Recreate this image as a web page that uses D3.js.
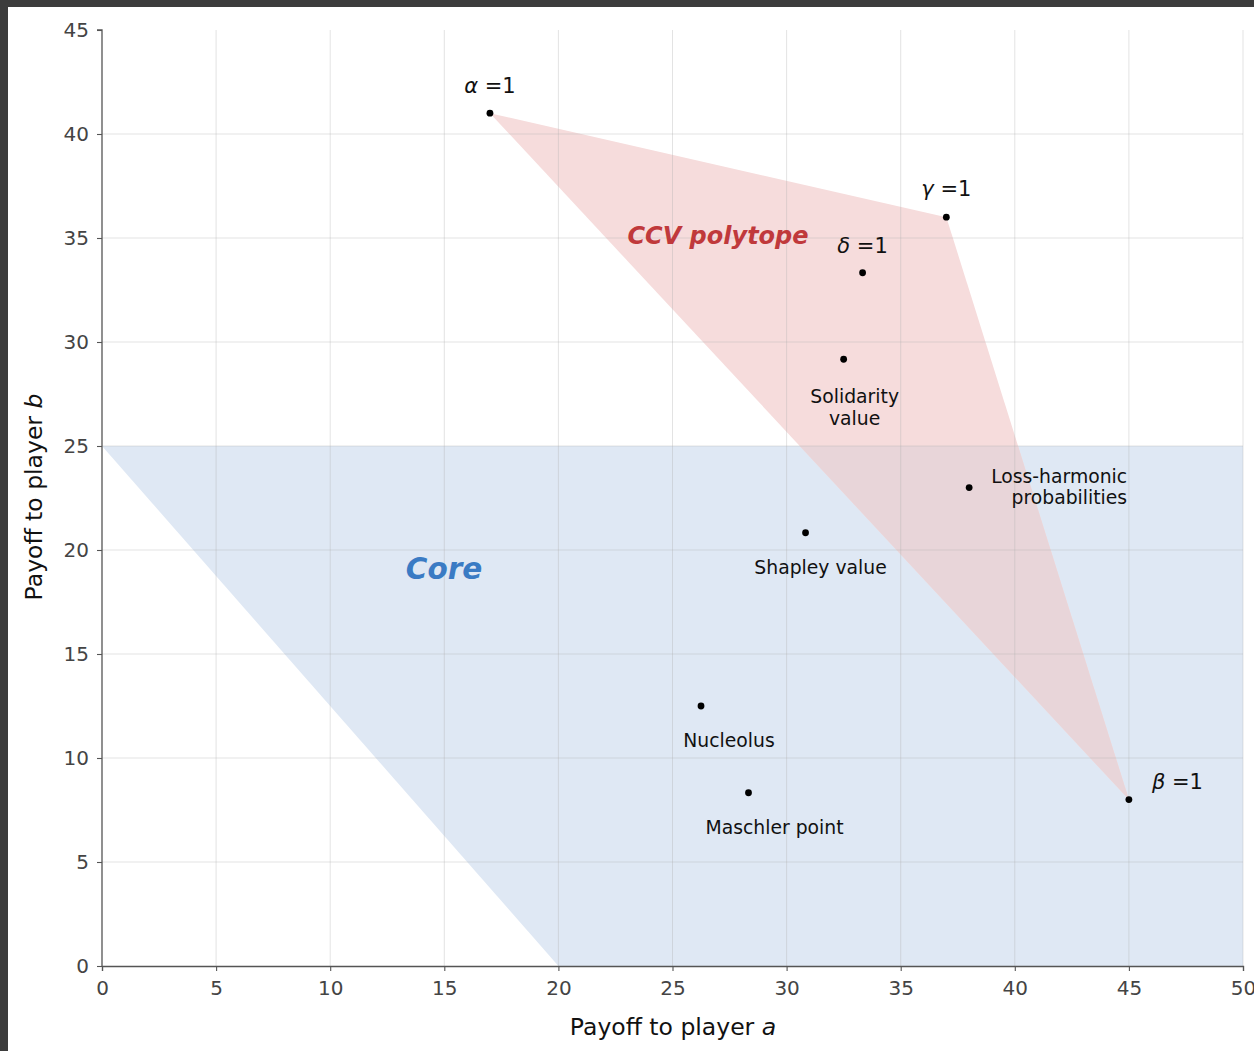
<!DOCTYPE html>
<html><head><meta charset="utf-8">
<script src="https://cdn.jsdelivr.net/npm/d3@7"></script>
<style>body{margin:0;padding:0;background:#fff}svg{display:block;font-family:"DejaVu Sans",sans-serif}</style>
</head><body>
<svg id="chart" width="1254" height="1051"></svg>
<script>
// Data
const xTicks = [0,5,10,15,20,25,30,35,40,45,50];
const yTicks = [0,5,10,15,20,25,30,35,40,45];
const corePolygon = [[0,25],[20,0],[50,0],[50,25]];
const ccvPolygon = [[17,41],[37,36],[45,8]];
const pointNames = ["alpha","gamma","delta","solidarity","lossHarmonic","shapley","nucleolus","maschler","beta"];
const pointX = [17, 37, 33.33, 32.5, 38, 30.83, 26.25, 28.33, 45];
const pointY = [41, 36, 33.33, 29.17, 23, 20.83, 12.5, 8.33, 8];

const W = 1254, H = 1051;
const svg = d3.select("#chart");
// dark frame
svg.append("rect").attr("x",0).attr("y",0).attr("width",W).attr("height",H).attr("fill","#3c3c3c");
svg.append("rect").attr("x",8).attr("y",7).attr("width",W-8).attr("height",H-7).attr("fill","#fff");

const x = d3.scaleLinear().domain([0,50]).range([102,1243]);
const y = d3.scaleLinear().domain([0,45]).range([966,30]);
const line = d3.line().x(d=>x(d[0])).y(d=>y(d[1]));

const defs = svg.append("defs");
defs.append("clipPath").attr("id","coreClip").append("path").attr("d", line(corePolygon)+"Z");

svg.append("path").attr("d", line(corePolygon)+"Z").attr("fill","#dfe8f4");
svg.append("path").attr("d", line(ccvPolygon)+"Z").attr("fill","#f6dcdc");
svg.append("path").attr("d", line(ccvPolygon)+"Z").attr("fill","#e8d5d9").attr("clip-path","url(#coreClip)");

// grid
const grid = svg.append("g");
xTicks.forEach(t=>{ if(t===0) return;
  grid.append("line").attr("x1",x(t)).attr("x2",x(t)).attr("y1",y(0)).attr("y2",y(45))
    .attr("stroke","#b0b0b0").attr("stroke-opacity",0.35).attr("stroke-width",1);
});
yTicks.forEach(t=>{ if(t===0||t===45) return;
  grid.append("line").attr("x1",x(0)).attr("x2",x(50)).attr("y1",y(t)).attr("y2",y(t))
    .attr("stroke","#b0b0b0").attr("stroke-opacity",0.35).attr("stroke-width",1);
});

// axes
const xAxis = d3.axisBottom(x).tickValues(xTicks).tickSize(5).tickPadding(10).tickFormat(d3.format("d"));
const yAxis = d3.axisLeft(y).tickValues(yTicks).tickSize(5).tickPadding(8).tickFormat(d3.format("d"));
const gx = svg.append("g").attr("transform",`translate(0,${y(0)})`).call(xAxis);
const gy = svg.append("g").attr("transform",`translate(${x(0)},0)`).call(yAxis);
[gx,gy].forEach(g=>{
  g.selectAll("path").attr("stroke","#555").attr("stroke-width",1.3);
  g.selectAll("line").attr("stroke","#555").attr("stroke-width",1.1);
  g.selectAll("text").attr("fill","#444").attr("font-size",20).attr("font-family","DejaVu Sans");
});
gy.select(".domain").attr("d",`M-5,${y(45)}H0V${y(0)}`);

// axis labels
const xl = svg.append("text").attr("x",673).attr("y",1035).attr("text-anchor","middle")
  .attr("font-size",23.5).attr("fill","#111");
xl.append("tspan").text("Payoff to player ");
xl.append("tspan").attr("font-style","italic").text("a");
const yl = svg.append("text").attr("transform","translate(42,497) rotate(-90)").attr("text-anchor","middle")
  .attr("font-size",23.5).attr("fill","#111");
yl.append("tspan").text("Payoff to player ");
yl.append("tspan").attr("font-style","italic").text("b");

// points
svg.append("g").selectAll("circle").data(pointX).join("circle")
  .attr("cx",(d,i)=>x(pointX[i])).attr("cy",(d,i)=>y(pointY[i])).attr("r",3.4).attr("fill","#000");

// labels
function P(name){ const i = pointNames.indexOf(name); return [x(pointX[i]), y(pointY[i])]; }
function greek(name, sym, dx, dy, anchor){
  const [px,py] = P(name);
  const t = svg.append("text").attr("x",px+dx).attr("y",py+dy).attr("text-anchor",anchor)
    .attr("font-size",21).attr("fill","#111");
  t.append("tspan").attr("font-style","italic").text(sym);
  t.append("tspan").text(" =1");
}
greek("alpha","α",0,-20,"middle");
greek("gamma","γ",0,-21,"middle");
greek("delta","δ",0,-20,"middle");
greek("beta","β",23,-11,"start");

function lbl(name, lines, dx, dy, anchor){
  const [px,py] = P(name);
  const t = svg.append("text").attr("text-anchor",anchor).attr("font-size",18.8).attr("fill","#111");
  lines.forEach((s,k)=>t.append("tspan").attr("x",px+dx).attr("y",py+dy+k*21.5).text(s));
}
lbl("solidarity",["Solidarity","value"],11,44,"middle");
lbl("lossHarmonic",["Loss-harmonic","probabilities"],158,-5,"end");
lbl("shapley",["Shapley value"],15,41,"middle");
lbl("nucleolus",["Nucleolus"],28,41,"middle");
lbl("maschler",["Maschler point"],26,41,"middle");

// region labels
svg.append("text").attr("x",718).attr("y",244).attr("text-anchor","middle").attr("font-size",24)
  .attr("font-weight","bold").attr("font-style","italic").attr("fill","#c0393b").text("CCV polytope");
svg.append("text").attr("x",444).attr("y",579).attr("text-anchor","middle").attr("font-size",29.5)
  .attr("font-weight","bold").attr("font-style","italic").attr("fill","#3a7bc4").text("Core");
</script>
</body></html>
